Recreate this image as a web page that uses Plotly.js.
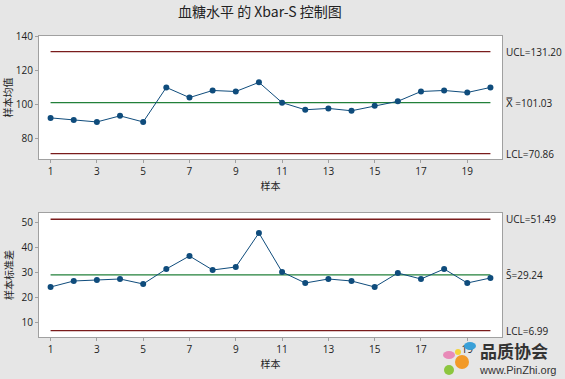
<!DOCTYPE html>
<html>
<head>
<meta charset="utf-8">
<script src="https://cdn.plot.ly/plotly-3.0.1.min.js"></script>
<style>html,body{margin:0;padding:0;background:#e6e6e6;}#chart{width:565px;height:379px;}</style>
</head>
<body>
<div id="chart"></div>
<script>
const samples = [1,2,3,4,5,6,7,8,9,10,11,12,13,14,15,16,17,18,19,20];
const xbarValues = [92,90.8,89.6,93.2,89.6,110,104,108.2,107.6,113,101,96.8,97.6,96.2,99.2,101.8,107.6,108.2,107,110];
const sdValues = [24.4,26.8,27.2,27.6,25.6,31.6,36.8,31.2,32.4,46,30.4,26,27.6,26.8,24.4,30,27.6,31.6,26,28];
const xbarLimits = {UCL:131.20, CL:101.03, LCL:70.86};
const sLimits = {UCL:51.49, CL:29.24, LCL:6.99};
const xTicks = [1,3,5,7,9,11,13,15,17,19];
const xbarTicks = [80,100,120,140];
const sTicks = [10,20,30,40,50];

const font = "Open Sans, Noto Sans CJK SC, sans-serif";
const cjk = "Noto Sans CJK SC, sans-serif";
const red = "#7a1c1c", green = "#22803a", blue = "#0f4c7c";
const first = samples[0], last = samples[samples.length-1];

function hline(y, color, xa, ya){
  return {x:[first,last], y:[y,y], mode:'lines', line:{color:color,width:1.3}, xaxis:xa, yaxis:ya, hoverinfo:'skip'};
}
const traces = [
  hline(xbarLimits.UCL, red, 'x', 'y'),
  hline(xbarLimits.LCL, red, 'x', 'y'),
  hline(xbarLimits.CL, green, 'x', 'y'),
  {x:samples, y:xbarValues, mode:'lines+markers', line:{color:blue,width:1}, marker:{color:blue,size:6}, xaxis:'x', yaxis:'y'},
  hline(sLimits.UCL, red, 'x2', 'y2'),
  hline(sLimits.LCL, red, 'x2', 'y2'),
  hline(sLimits.CL, green, 'x2', 'y2'),
  {x:samples, y:sdValues, mode:'lines+markers', line:{color:blue,width:1}, marker:{color:blue,size:6}, xaxis:'x2', yaxis:'y2'}
];

const axBase = {showgrid:false, zeroline:false, showline:true, mirror:true, linecolor:'#a0a0a0', linewidth:1,
  ticks:'outside', ticklen:3, tickcolor:'#a0a0a0', tickfont:{family:font,size:10,color:'#222'}};

const lblFont = {family:font, size:10, color:'#222'};
function rlabel(text, y, yref){
  return {text:text, xref:'paper', x:1, xanchor:'left', yanchor:'middle', xshift:2, yref:yref, y:y, showarrow:false, font:lblFont};
}
const annotations = [
  rlabel('UCL=131.20', xbarLimits.UCL, 'y'),
  rlabel('X\u033F =101.03', xbarLimits.CL, 'y'),
  rlabel('LCL=70.86', xbarLimits.LCL, 'y'),
  rlabel('UCL=51.49', sLimits.UCL, 'y2'),
  rlabel('S\u0304=29.24', sLimits.CL, 'y2'),
  rlabel('LCL=6.99', sLimits.LCL, 'y2'),
  {text:'<b>品质协会</b>', xref:'paper', yref:'paper', xanchor:'left', yanchor:'middle', borderpad:0, x:(479-39)/463, y:(337-350)/301, showarrow:false, font:{family:cjk,size:17,color:'#333'}},
  {text:'www.PinZhi.org', xref:'paper', yref:'paper', xanchor:'left', yanchor:'middle', borderpad:0, x:(478-39)/463, y:(337-370)/301, showarrow:false, font:{family:'Liberation Sans, Arial, sans-serif',size:11,color:'#333'}}
];

function px(x){return (x-39)/463;}
function py(y){return (337-y)/301;}
function blob(cx, cy, rx, ry, color){
  return {type:'circle', xref:'paper', yref:'paper', x0:px(cx-rx), x1:px(cx+rx), y0:py(cy+ry), y1:py(cy-ry), fillcolor:color, line:{width:0}, layer:'above'};
}
const shapes = [
  blob(449, 355, 6, 4, '#e88ab8'),
  blob(470, 346, 6, 4, '#3aa0d8'),
  blob(462, 362, 7, 7, '#f29a28'),
  blob(449, 370, 5, 5, '#8cc63f'),
  blob(458, 352, 3, 3, '#f5d33a')
];

const layout = {
  width:565, height:379,
  paper_bgcolor:'#e6e6e6', plot_bgcolor:'#ffffff',
  margin:{l:39, r:63, t:36, b:42},
  showlegend:false,
  title:{text:'血糖水平 的 Xbar-S 控制图', x:0.46, xanchor:'center', y:0.982, yanchor:'top', font:{family:cjk,size:14,color:'#222'}},
  xaxis:Object.assign({}, axBase, {range:[0.5,20.5], tickvals:xTicks, anchor:'y',
    title:{text:'样本', font:{family:cjk,size:10,color:'#222'}, standoff:4}}),
  yaxis:Object.assign({}, axBase, {range:[67.7,140.4], tickvals:xbarTicks, domain:[0.5914,1], anchor:'x',
    title:{text:'样本均值', font:{family:cjk,size:10,color:'#222'}, standoff:6}}),
  xaxis2:Object.assign({}, axBase, {range:[0.5,20.5], tickvals:xTicks, anchor:'y2',
    title:{text:'样本', font:{family:cjk,size:10,color:'#222'}, standoff:4}}),
  yaxis2:Object.assign({}, axBase, {range:[4.4,54], tickvals:sTicks, domain:[0,0.412], anchor:'x2',
    title:{text:'样本标准差', font:{family:cjk,size:10,color:'#222'}, standoff:6}}),
  annotations:annotations,
  shapes:shapes
};

Plotly.newPlot('chart', traces, layout, {displayModeBar:false, staticPlot:true});
</script>
</body>
</html>
